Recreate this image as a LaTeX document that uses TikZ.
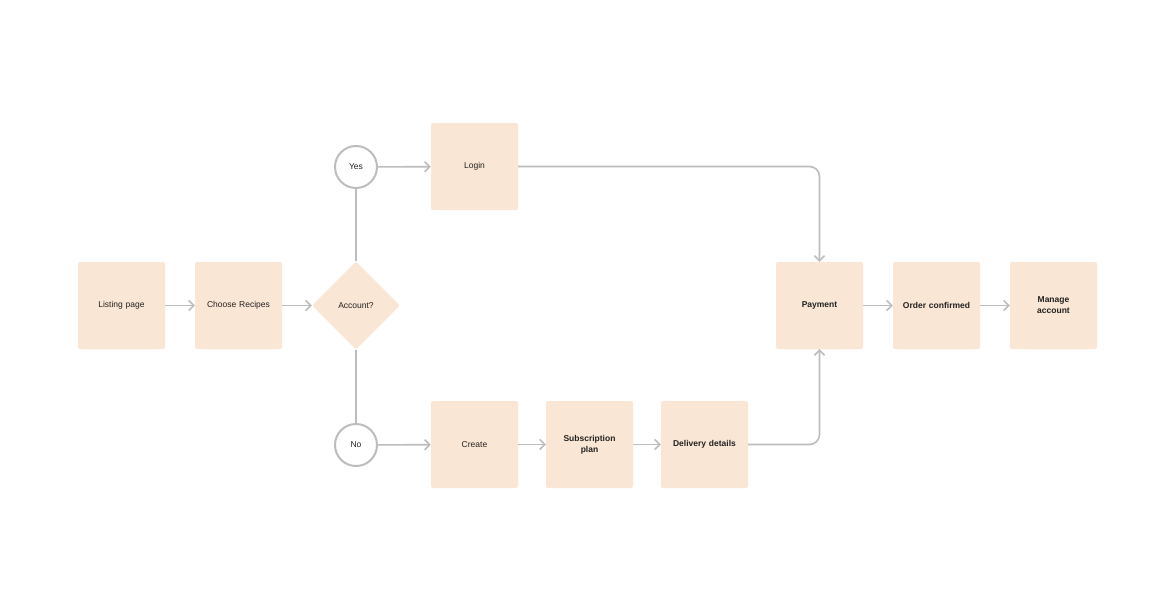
\documentclass[tikz,border=0pt]{standalone}
\usepackage{fontspec}
\setmainfont{Liberation Sans}
\usetikzlibrary{shapes.geometric,arrows.meta}
\definecolor{boxc}{HTML}{FAE6D4}
\definecolor{linec}{HTML}{BDBDBD}
\definecolor{txt}{HTML}{222222}
\begin{document}
\begin{tikzpicture}[x=1pt,y=-1pt,
  box/.style={draw=none,fill=boxc,rounded corners=2pt,minimum width=87pt,minimum height=87pt,inner sep=0pt,font=\fontsize{8.5}{10}\selectfont,text=txt,align=center,text width=80pt},
  bbox/.style={box,font=\fontsize{8.5}{11}\selectfont\bfseries},
  dia/.style={diamond,fill=boxc,minimum width=88pt,minimum height=88pt,inner sep=0pt,font=\fontsize{8.5}{10}\selectfont,text=txt,rounded corners=2pt},
  circ/.style={circle,draw=linec,line width=2pt,fill=white,minimum size=42pt,inner sep=0pt,font=\fontsize{8.5}{10}\selectfont,text=txt},
  con/.style={draw=linec,line width=1.6pt},
  arr/.style={con,-{Straight Barb[length=5pt,width=10pt,line width=1.6pt]}}]
\useasboundingbox[fill=white] (0,0) rectangle (1176,613);
\node[box] (list) at (121.5,305.5) {Listing page};
\node[box] (choose) at (238.5,305.5) {Choose Recipes};
\node[dia] (acc) at (356,305.5) {Account?};
\node[circ] (yes) at (356,167) {Yes};
\node[circ] (no) at (356,445) {No};
\node[box] (login) at (474.5,166.5) {Login};
\node[box] (create) at (474.5,444.5) {Create};
\node[bbox] (sub) at (589.5,444.5) {Subscription\\plan};
\node[bbox] (del) at (704.5,444.5) {Delivery details};
\node[bbox] (pay) at (819.5,305.5) {Payment};
\node[bbox] (ord) at (936.5,305.5) {Order confirmed};
\node[bbox] (man) at (1053.5,305.5) {Manage\\account};
\draw[arr] (list) -- (choose);
\draw[arr] (choose) -- (acc);
\draw[con] (acc.north) -- (yes.south);
\draw[con] (acc.south) -- (no.north);
\draw[arr] (yes) -- (login);
\draw[arr] (no) -- (create);
\draw[arr] (create) -- (sub);
\draw[arr] (sub) -- (del);
\draw[arr,rounded corners=10pt] (login.east) -| (pay.north);
\draw[arr,rounded corners=10pt] (del.east) -| (pay.south);
\draw[arr] (pay) -- (ord);
\draw[arr] (ord) -- (man);
\end{tikzpicture}
\end{document}
